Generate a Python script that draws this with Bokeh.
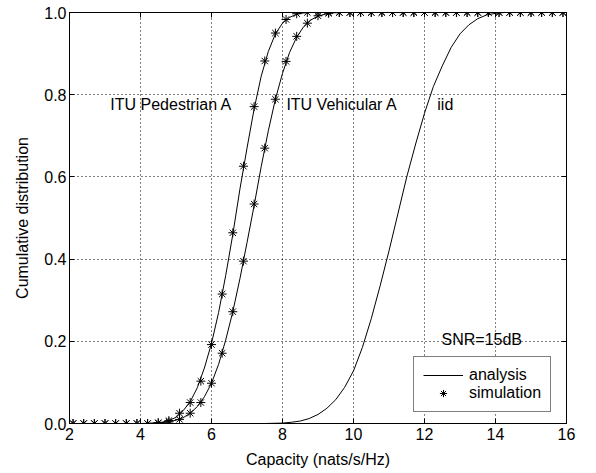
from bokeh.plotting import figure
from bokeh.models import (Range1d, FixedTicker, PrintfTickFormatter, LinearAxis,
                          Legend, LegendItem, Label)
from bokeh.embed import file_html
from bokeh.resources import INLINE

# ---------------- data ----------------
# analysis curves
ped_x = [2.0, 4.0, 4.4, 4.6, 4.8, 5.0, 5.2, 5.4, 5.6, 5.8, 6.0, 6.2, 6.4, 6.6, 6.8, 7.0,
         7.2, 7.4, 7.6, 7.8, 8.0, 8.2, 8.4, 8.6, 8.8, 16.0]
ped_y = [0.0, 0.0, 0.001, 0.003, 0.007, 0.015, 0.031, 0.053, 0.087, 0.135, 0.195, 0.27,
         0.36, 0.46, 0.57, 0.67, 0.765, 0.845, 0.905, 0.948, 0.974, 0.988, 0.996, 0.999,
         1.0, 1.0]

veh_x = [2.0, 4.2, 4.6, 4.8, 5.0, 5.2, 5.4, 5.6, 5.8, 6.0, 6.2, 6.4, 6.6, 6.8, 7.0, 7.2,
         7.4, 7.6, 7.8, 8.0, 8.2, 8.4, 8.6, 8.8, 9.0, 9.2, 9.4, 9.6, 16.0]
veh_y = [0.0, 0.0, 0.002, 0.004, 0.008, 0.014, 0.025, 0.041, 0.065, 0.098, 0.144, 0.203,
         0.272, 0.352, 0.44, 0.53, 0.625, 0.712, 0.789, 0.852, 0.903, 0.94, 0.966, 0.982,
         0.991, 0.996, 0.999, 1.0, 1.0]

iid_x = [2.0, 7.5, 8.0, 8.25, 8.5, 8.75, 9.0, 9.25, 9.5, 9.75, 10.0, 10.25, 10.5, 10.75,
         11.0, 11.25, 11.5, 11.75, 12.0, 12.25, 12.5, 12.75, 13.0, 13.25, 13.5, 13.75,
         14.0, 14.25, 16.0]
iid_y = [0.0, 0.0, 0.001, 0.003, 0.006, 0.012, 0.022, 0.037, 0.058, 0.088, 0.128, 0.185,
         0.255, 0.335, 0.42, 0.51, 0.6, 0.68, 0.755, 0.82, 0.87, 0.915, 0.948, 0.97, 0.985,
         0.994, 0.998, 1.0, 1.0]

# simulation points
sim_x = [2.1, 2.4, 2.7, 3.0, 3.3, 3.6, 3.9, 4.2, 4.5, 4.8, 5.1, 5.4, 5.7, 6.0, 6.3, 6.6,
         6.9, 7.2, 7.5, 7.8, 8.1, 8.4, 8.7, 9.0, 9.3, 9.6, 9.9, 10.2, 10.5, 10.8, 11.1,
         11.4, 11.7, 12.0, 12.3, 12.6, 12.9, 13.2, 13.5, 13.8, 14.1, 14.4, 14.7, 15.0,
         15.3, 15.6, 15.9]
ped_sim = [0, 0, 0, 0, 0, 0, 0, 0, 0.002, 0.007, 0.025, 0.051, 0.103, 0.192, 0.315, 0.464,
           0.626, 0.771, 0.882, 0.95, 0.983, 0.997, 1.0, 1.0, 1.0, 1.0, 1.0, 1.0, 1.0, 1.0,
           1.0, 1.0, 1.0, 1.0, 1.0, 1.0, 1.0, 1.0, 1.0, 1.0, 1.0, 1.0, 1.0, 1.0, 1.0, 1.0, 1.0]
veh_sim = [0, 0, 0, 0, 0, 0, 0, 0, 0.001, 0.004, 0.01, 0.025, 0.051, 0.098, 0.171, 0.272,
           0.395, 0.534, 0.67, 0.789, 0.881, 0.942, 0.974, 0.992, 0.998, 1.0, 1.0, 1.0, 1.0,
           1.0, 1.0, 1.0, 1.0, 1.0, 1.0, 1.0, 1.0, 1.0, 1.0, 1.0, 1.0, 1.0, 1.0, 1.0, 1.0,
           1.0, 1.0]

x_ticks = [2, 4, 6, 8, 10, 12, 14, 16]
y_ticks = [0.0, 0.2, 0.4, 0.6, 0.8, 1.0]

labels = ["ITU Pedestrian A", "ITU Vehicular A", "iid"]
label_x = [3.15, 8.11, 12.36]
label_y = [0.775, 0.775, 0.775]
snr_text = "SNR=15dB"
x_title = "Capacity (nats/s/Hz)"
y_title = "Cumulative distribution"

FONT = "Liberation Sans"

# ---------------- figure ----------------
p = figure(width=596, height=473, output_backend="svg", toolbar_location=None,
           x_range=Range1d(2, 16), y_range=Range1d(0, 1),
           min_border_left=69, min_border_right=30, min_border_top=12,
           min_border_bottom=50)
p.background_fill_color = "white"
p.border_fill_color = "white"
p.outline_line_color = "black"
p.outline_line_alpha = 1.0
p.outline_line_width = 1

def style_axis(ax, ticks, fmt):
    ax.ticker = FixedTicker(ticks=ticks)
    ax.formatter = PrintfTickFormatter(format=fmt)
    ax.major_tick_in = 5
    ax.major_tick_out = 0
    ax.minor_tick_line_color = None
    ax.axis_line_color = "black"
    ax.major_tick_line_color = "black"
    ax.major_label_text_font = FONT
    ax.major_label_text_color = "black"
    ax.major_label_text_font_size = "16px"
    ax.axis_label_text_font = FONT
    ax.axis_label_text_font_style = "normal"
    ax.axis_label_text_color = "black"
    ax.axis_label_text_font_size = "16px"

style_axis(p.xaxis[0], x_ticks, "%d")
style_axis(p.yaxis[0], y_ticks, "%.1f")
p.xaxis[0].axis_label = x_title
p.yaxis[0].axis_label = y_title
p.xaxis[0].major_label_standoff = 4
p.yaxis[0].major_label_standoff = 3
p.xaxis[0].axis_label_standoff = 8
p.yaxis[0].axis_label_standoff = 10

# box ticks on top and right (no labels)
top = LinearAxis()
right = LinearAxis()
for ax, tk in ((top, x_ticks), (right, y_ticks)):
    style_axis(ax, tk, "%d")
    ax.major_label_text_font_size = "1px"
    ax.major_label_text_color = None
    ax.major_label_standoff = 0
p.add_layout(top, "above")
p.add_layout(right, "right")

for g in (p.xgrid[0], p.ygrid[0]):
    g.grid_line_color = "black"
    g.grid_line_dash = "1 3"
    g.grid_line_width = 1
p.xgrid[0].ticker = FixedTicker(ticks=x_ticks)
p.ygrid[0].ticker = FixedTicker(ticks=y_ticks)

r_line = p.line(ped_x, ped_y, line_color="black", line_width=1)
p.line(veh_x, veh_y, line_color="black", line_width=1)
p.line(iid_x, iid_y, line_color="black", line_width=1)

r_sim = p.scatter(sim_x, ped_sim, marker="asterisk", size=9, line_color="black", line_width=1)
p.scatter(sim_x, veh_sim, marker="asterisk", size=9, line_color="black", line_width=1)

for t, x, y in zip(labels, label_x, label_y):
    p.add_layout(Label(x=x, y=y, text=t, text_font=FONT, text_font_size="16px",
                       text_baseline="middle", text_align="left", text_color="black"))
p.add_layout(Label(x=12.48, y=0.204, text=snr_text, text_font=FONT, text_font_size="16px",
                   text_baseline="middle", text_align="left", text_color="black"))

legend = Legend(items=[LegendItem(label="analysis", renderers=[r_line]),
                       LegendItem(label="simulation", renderers=[r_sim])],
                location=(344, 11), orientation="vertical")
legend.label_text_font = FONT
legend.label_text_font_size = "16px"
legend.label_text_color = "black"
legend.border_line_color = "black"
legend.border_line_width = 1
legend.background_fill_color = "white"
legend.background_fill_alpha = 1.0
legend.padding = 9
legend.spacing = 0
legend.margin = 0
legend.glyph_width = 40
legend.glyph_height = 18
legend.label_height = 18
legend.label_standoff = 6
p.add_layout(legend, "center")

open("out.html", "w").write(file_html(p, INLINE))
